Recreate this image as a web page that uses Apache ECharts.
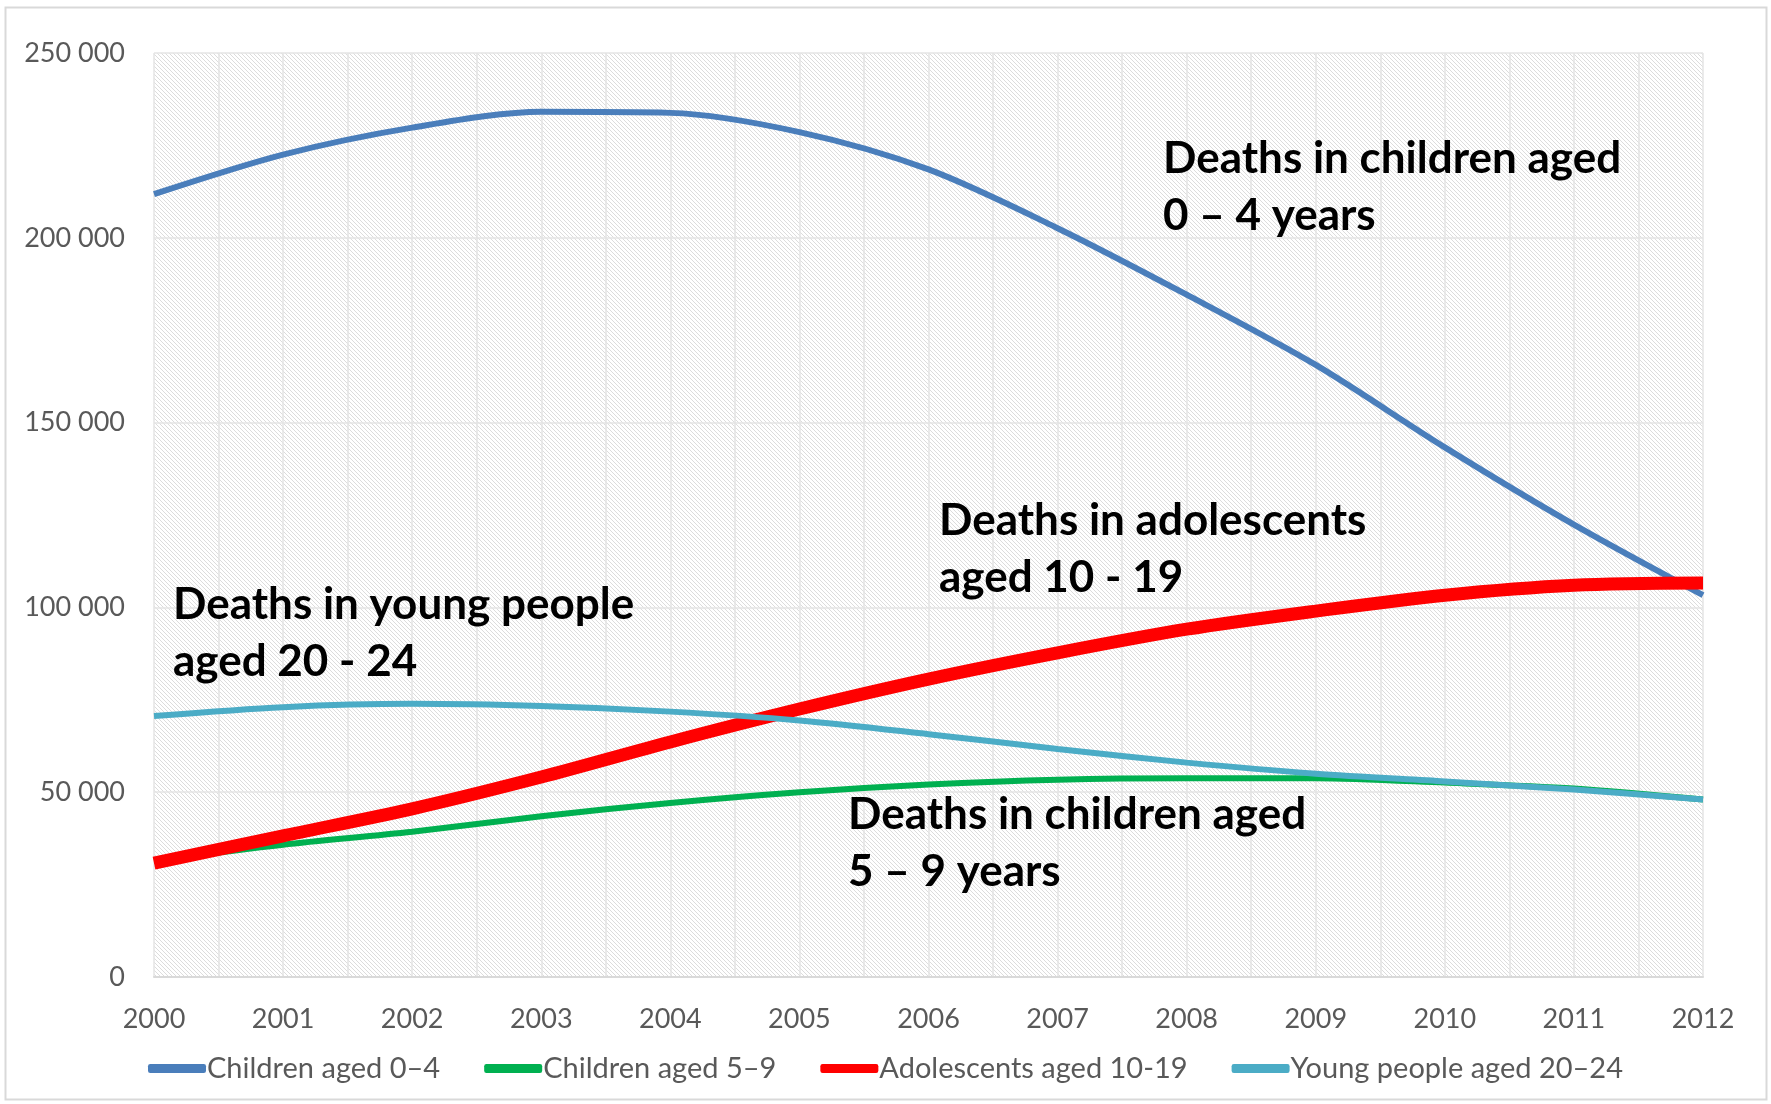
<!DOCTYPE html>
<html lang="en">
<head>
    <meta charset="UTF-8">
    <title>Deaths by age group</title>
    <script src="https://cdn.jsdelivr.net/npm/echarts@6.0.0/dist/echarts.min.js"></script>
    <style type="text/css">
        *{
            margin: 0;
            padding: 0;
        }
        #main{
            width: 1771px;
            height: 1104px;
            background: #fff;
        }
    </style>
</head>
<body>
    <div id="main"></div>
</body>
<script>
    // data
    var years = [2000, 2001, 2002, 2003, 2004, 2005, 2006, 2007, 2008, 2009, 2010, 2011, 2012];
    var seriesNames = ['Children aged 0\u20134', 'Children aged 5\u20139', 'Adolescents aged 10-19', 'Young people aged 20\u201324'];
    var age0to4 = [211800, 222500, 229800, 234100, 233800, 228600, 218500, 202600, 184600, 165600, 143300, 122400, 103300];
    var age5to9 = [31500, 35800, 39300, 43500, 47100, 50000, 52100, 53400, 53800, 53800, 52600, 51000, 48000];
    var age10to19 = [30800, 38200, 45500, 54100, 63600, 72500, 80600, 87700, 94100, 99000, 103300, 106000, 106600];
    var age20to24 = [70600, 73000, 73900, 73300, 71800, 69400, 65700, 61700, 58000, 55000, 52900, 50700, 48000];
    var colors = ['#4a7ebb', '#00b050', '#ff0000', '#4bacc6'];
    var widths = [6, 6, 13, 6];

    function pairs(vals){
        var out = [];
        for (var i = 0; i < years.length; i++){
            out.push([years[i], vals[i]]);
        }
        return out;
    }

    // diagonal hatch for the plot area
    var hatch = document.createElement('canvas');
    hatch.width = 4;
    hatch.height = 4;
    var hc = hatch.getContext('2d');
    hc.fillStyle = '#ffffff';
    hc.fillRect(0, 0, 4, 4);
    hc.strokeStyle = '#dcdcdc';
    hc.lineWidth = 1;
    hc.beginPath();
    hc.moveTo(-1, -1); hc.lineTo(5, 5);
    hc.moveTo(-1, 3); hc.lineTo(1, 5);
    hc.moveTo(3, -1); hc.lineTo(5, 1);
    hc.stroke();

    var font = 'Lato, "Open Sans", sans-serif';
    var allData = [age0to4, age5to9, age10to19, age20to24];
    var series = [];
    var legendData = [];
    for (var k = 0; k < allData.length; k++){
        series.push({
            name: seriesNames[k],
            type: 'line',
            smooth: 0.3,
            showSymbol: false,
            data: pairs(allData[k]),
            lineStyle: {color: colors[k], width: widths[k], cap: 'butt'},
            itemStyle: {color: colors[k]}
        });
        legendData.push({
            name: seriesNames[k],
            icon: 'roundRect',
            itemStyle: {color: colors[k]}
        });
    }

    var notes = [
        {text: 'Deaths in children aged\n0 \u2013 4 years', x: 1163, y: 174},
        {text: 'Deaths in adolescents\naged 10 - 19', x: 939, y: 536},
        {text: 'Deaths in young people\naged 20 - 24', x: 173, y: 620},
        {text: 'Deaths in children aged\n5 \u2013 9 years', x: 848, y: 830}
    ];
    var graphics = [{
        type: 'rect',
        shape: {x: 5.5, y: 7.5, width: 1761, height: 1092},
        style: {fill: null, stroke: '#d9d9d9', lineWidth: 2},
        silent: true
    }];
    notes.forEach(function (n){
        graphics.push({
            type: 'text',
            x: n.x,
            y: n.y - 44,
            z: 100,
            style: {
                text: n.text,
                font: 'bold 44px ' + font,
                fill: '#000',
                lineHeight: 57,
                verticalAlign: 'top'
            }
        });
    });

    var myChart = echarts.init(document.getElementById('main'));
    var option = {
        animation: false,
        backgroundColor: '#fff',
        textStyle: {fontFamily: font},
        grid: {
            left: 154,
            right: 68,
            top: 53,
            bottom: 127,
            show: true,
            borderWidth: 0,
            backgroundColor: {image: hatch, repeat: 'repeat'}
        },
        legend: {
            bottom: 16,
            left: 'center',
            itemWidth: 58,
            itemHeight: 9,
            itemGap: 44,
            data: legendData,
            textStyle: {fontSize: 29, color: '#595959', fontFamily: font, padding: [0, 0, 0, -4]}
        },
        xAxis: {
            type: 'value',
            min: 2000,
            max: 2012,
            interval: 1,
            axisLine: {show: true, lineStyle: {color: '#d9d9d9', width: 2}},
            axisTick: {show: false},
            minorTick: {show: false, splitNumber: 2},
            minorSplitLine: {show: true, lineStyle: {color: '#e4e4e4', width: 1.5}},
            splitLine: {show: true, lineStyle: {color: '#e4e4e4', width: 1.5}},
            axisLabel: {
                fontSize: 27,
                color: '#595959',
                margin: 29,
                formatter: function (v){ return String(v); }
            }
        },
        yAxis: {
            type: 'value',
            min: 0,
            max: 250000,
            interval: 50000,
            axisLine: {show: false},
            axisTick: {show: false},
            splitLine: {lineStyle: {color: '#e4e4e4', width: 1.5}},
            axisLabel: {
                fontSize: 27,
                color: '#595959',
                margin: 29,
                formatter: function (v){
                    return String(v).replace(/\B(?=(\d{3})+(?!\d))/g, ' ');
                }
            }
        },
        series: series,
        graphic: graphics
    };
    myChart.setOption(option);
</script>
</html>
